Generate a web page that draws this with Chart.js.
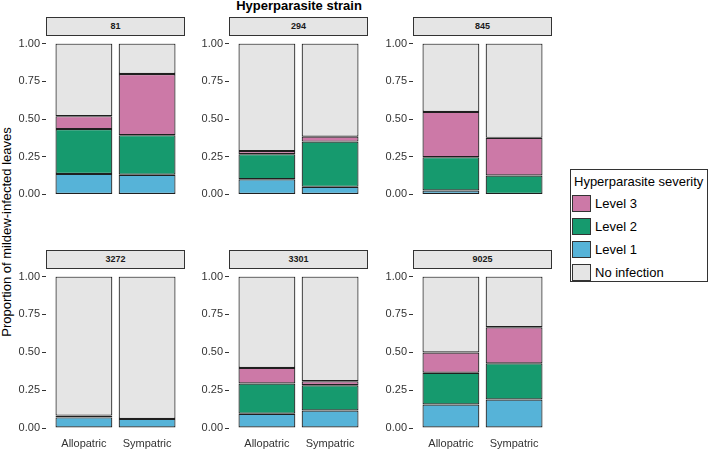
<!DOCTYPE html>
<html>
<head>
<meta charset="utf-8">
<script src="https://cdn.jsdelivr.net/npm/chart.js@4"></script>
<style>
  body { margin: 0; width: 709px; height: 451px; position: relative; background: #fff; overflow: hidden;
         font-family: "Liberation Sans", Arial, sans-serif; }
  canvas { position: absolute; }
  .strip { position: absolute; box-sizing: border-box; height: 19px; line-height: 17px; background: #e5e5e5;
           border: 1px solid #333; font-size: 9px; font-weight: bold; color: #1a1a1a; text-align: center; }
  #title { position: absolute; left: 0; width: 598px; top: -2px; line-height: 15px; font-size: 13px;
           font-weight: bold; text-align: center; color: #000; }
  #ytitle { position: absolute; left: -143px; top: 224px; width: 300px; height: 16px; line-height: 16px;
            font-size: 13px; text-align: center; transform: rotate(-90deg); color: #000; }
  #legend { position: absolute; left: 570px; top: 169px; width: 138px; height: 113px; box-sizing: border-box;
            border: 1px solid #333; font-size: 13px; color: #000; }
  #legend .ttl { position: absolute; left: 3px; top: 4px; line-height: 16px; white-space: nowrap; }
  #legend .item { position: absolute; left: 1px; height: 17px; white-space: nowrap; }
  #legend .sw { position: absolute; left: 0; top: 0; width: 19px; height: 17px; box-sizing: border-box; border: 1px solid #333; }
  #legend .lab { position: absolute; left: 23px; top: 0; line-height: 17px; }
</style>
</head>
<body>
<div id="title">Hyperparasite strain</div>
<div id="ytitle">Proportion of mildew-infected leaves</div>
<div id="legend"></div>
<script>
const strains = ['81', '294', '845', '3272', '3301', '9025'];
const origins = ['Allopatric', 'Sympatric'];

// proportions per strain: [Allopatric, Sympatric]
const level1 = [[0.136, 0.130], [0.100, 0.050], [0.026, 0.000], [0.070, 0.060], [0.094, 0.116], [0.155, 0.188]];
const level2 = [[0.297, 0.263], [0.167, 0.300], [0.221, 0.125], [0.012, 0.000], [0.200, 0.166], [0.210, 0.239]];
const level3 = [[0.086, 0.405], [0.020, 0.033], [0.300, 0.250], [0.000, 0.000], [0.103, 0.027], [0.134, 0.238]];
const noInfection = [[0.481, 0.202], [0.713, 0.617], [0.453, 0.625], [0.918, 0.940], [0.603, 0.691], [0.501, 0.335]];

const severityNames = ['Level 1', 'Level 2', 'Level 3', 'No infection'];
const severityColors = ['#56b3d8', '#169a6e', '#cc79a7', '#e5e5e5'];
const yTickLabels = ['0.00', '0.25', '0.50', '0.75', '1.00'];

const series = [level1, level2, level3, noInfection];
const fontFamily = '"Liberation Sans", Arial, sans-serif';

const colLeft = [46, 229, 413];
const rowTop = [43, 276];
const plotW = 139, plotH = 152, axisW = 40;

strains.forEach(function (strain, i) {
    const col = i % 3, row = Math.floor(i / 3);
    const bottomRow = row === 1;
    const left = colLeft[col], top = rowTop[row];

    const strip = document.createElement('div');
    strip.className = 'strip';
    strip.style.left = left + 'px';
    strip.style.top = (top - 26) + 'px';
    strip.style.width = plotW + 'px';
    strip.textContent = strain;
    document.body.appendChild(strip);

    const canvas = document.createElement('canvas');
    const h = plotH + 8 + (bottomRow ? 24 : 8);
    canvas.width = axisW + plotW;
    canvas.height = h;
    canvas.style.left = (left - axisW) + 'px';
    canvas.style.top = (top - 8) + 'px';
    canvas.style.width = (axisW + plotW) + 'px';
    canvas.style.height = h + 'px';
    document.body.appendChild(canvas);

    new Chart(canvas.getContext('2d'), {
        type: 'bar',
        data: {
            labels: origins,
            datasets: severityNames.map(function (name, k) {
                return {
                    label: name,
                    data: series[k][i],
                    backgroundColor: severityColors[k],
                    borderColor: '#1f1f1f',
                    borderWidth: 1.2,
                    borderSkipped: false,
                    barPercentage: 0.9,
                    categoryPercentage: 1
                };
            })
        },
        options: {
            responsive: false,
            animation: false,
            layout: { padding: { top: 8, bottom: bottomRow ? 0 : 8, left: 0, right: 0 } },
            plugins: { legend: { display: false }, tooltip: { enabled: false } },
            scales: {
                x: {
                    stacked: true,
                    display: bottomRow,
                    // ggplot discrete axis: 0.6 category units of space on each side
                    afterBuildTicks: function (s) { s._startValue = -0.6; s._valueRange = 2.2; },
                    afterFit: function (s) { if (bottomRow) s.height = 24; },
                    grid: { display: false, drawTicks: false },
                    border: { display: false },
                    ticks: {
                        autoSkip: false,
                        maxRotation: 0,
                        padding: 9,
                        color: '#333',
                        font: { family: fontFamily, size: 11 }
                    }
                },
                y: {
                    min: 0,
                    max: 1,
                    stacked: true,
                    afterFit: function (s) { s.width = axisW; },
                    grid: { drawOnChartArea: false, drawTicks: true, tickLength: 4, color: '#333' },
                    border: { display: false },
                    ticks: {
                        stepSize: 0.25,
                        padding: 2,
                        color: '#333',
                        font: { family: fontFamily, size: 11 },
                        callback: function (v, idx) { return yTickLabels[idx]; }
                    }
                }
            }
        }
    });
});

// legend, top to bottom: Level 3, Level 2, Level 1, No infection
const legend = document.getElementById('legend');
const ttl = document.createElement('div');
ttl.className = 'ttl';
ttl.textContent = 'Hyperparasite severity';
legend.appendChild(ttl);
[2, 1, 0, 3].forEach(function (k, n) {
    const item = document.createElement('div');
    item.className = 'item';
    item.style.top = (25 + n * 23) + 'px';
    const sw = document.createElement('div');
    sw.className = 'sw';
    sw.style.background = severityColors[k];
    const lab = document.createElement('div');
    lab.className = 'lab';
    lab.textContent = severityNames[k];
    item.appendChild(sw);
    item.appendChild(lab);
    legend.appendChild(item);
});
</script>
</body>
</html>
